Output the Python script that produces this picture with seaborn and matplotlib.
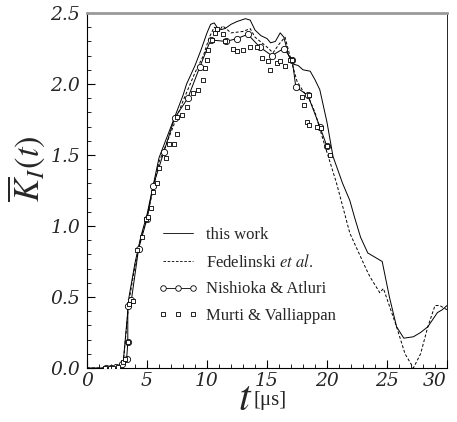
import numpy as np
import pandas as pd
import matplotlib
matplotlib.use("Agg")
import matplotlib.pyplot as plt
import seaborn as sns
from matplotlib.lines import Line2D
from matplotlib.ticker import MultipleLocator

# this work (solid line)
t_work = [0, 2.5, 3.0, 3.5, 4.0, 4.5, 5.0, 6.0, 7.0, 8.0, 8.3, 9.0, 9.5, 10.0, 10.3, 10.6,
          11.0, 11.5, 12.0, 12.5, 13.2, 13.6, 14.0, 14.5, 15.0, 15.3, 15.7, 16.1, 16.4,
          16.8, 17.2, 17.6, 18.0, 18.6, 19.0, 19.4, 20.0, 20.5, 21.3, 21.9, 22.3, 22.8,
          23.4, 24.0, 24.6, 25.2, 25.8, 26.4, 27.2, 27.8, 28.4, 29.2, 29.6, 30.0]
k_work = [0.0, 0.0, 0.02, 0.5, 0.74, 0.93, 1.08, 1.48, 1.7, 1.92, 2.0, 2.13, 2.24, 2.36, 2.42, 2.43,
          2.38, 2.39, 2.42, 2.44, 2.46, 2.45, 2.38, 2.34, 2.32, 2.29, 2.30, 2.36, 2.33,
          2.20, 2.14, 2.13, 2.10, 2.09, 2.03, 1.96, 1.73, 1.49, 1.30, 1.18, 1.06, 0.92,
          0.81, 0.78, 0.75, 0.50, 0.29, 0.21, 0.22, 0.25, 0.29, 0.39, 0.41, 0.44]

# Fedelinski et al. (dashed)
t_fed = [0, 2.5, 3.0, 3.5, 4.0, 4.5, 5.0, 6.0, 7.0, 8.0, 9.0, 9.7, 10.2, 10.6, 11.0, 11.3,
         12.0, 13.0, 13.6, 14.0, 15.0, 15.5, 16.0, 16.5, 17.0, 17.5, 18.0, 18.5, 19.0,
         19.7, 20.8, 21.9, 23.3, 23.6, 24.4, 24.7, 25.8, 26.5, 27.2, 27.8, 28.4, 29.0,
         29.4, 30.0]
k_fed = [0.0, 0.0, 0.02, 0.47, 0.72, 0.92, 1.06, 1.45, 1.66, 1.88, 2.08, 2.2, 2.33, 2.40, 2.37, 2.41,
         2.36, 2.37, 2.39, 2.33, 2.26, 2.22, 2.28, 2.33, 2.17, 2.02, 1.95, 1.9, 1.8,
         1.6, 1.30, 0.95, 0.69, 0.64, 0.53, 0.56, 0.29, 0.10, 0.0, 0.10, 0.29, 0.44,
         0.44, 0.41]

# Nishioka & Atluri (line with circles)
t_nis = [1.6, 2.0, 2.4, 2.9, 3.3, 3.4, 3.4, 3.7, 4.3, 5.0, 5.5, 6.4, 7.3, 8.4, 9.4, 10.3,
         11.6, 12.5, 13.4, 14.4, 15.4, 16.4, 17.1, 17.4, 18.4, 19.4, 20.0]
k_nis = [0.0, 0.0, 0.01, 0.03, 0.06, 0.18, 0.44, 0.48, 0.84, 1.05, 1.28, 1.52, 1.76, 1.9, 2.12, 2.31,
         2.30, 2.32, 2.35, 2.26, 2.20, 2.25, 2.17, 1.98, 1.92, 1.70, 1.56]

# Murti & Valliappan (squares)
t_mur = [1.5, 1.9, 2.2, 2.6, 3.0, 3.2, 3.4, 3.5, 3.8, 4.2, 4.6, 4.9, 5.1, 5.3, 5.5, 5.8,
         6.0, 6.6, 6.8, 7.25, 7.5, 7.5, 7.9, 8.3, 8.8, 9.25, 9.7, 9.8, 10.0, 10.1, 10.4,
         10.7, 10.8, 11.3, 11.5, 12.2, 12.5, 13.0, 13.6, 14.2, 14.6, 15.1, 15.25, 15.8,
         16.1, 16.5, 16.9, 17.1, 17.9, 18.1, 18.3, 18.5, 18.5, 19.2, 19.5, 20.0, 20.25]
k_mur = [0.0, 0.0, 0.0, 0.01, 0.04, 0.06, 0.18, 0.45, 0.47, 0.83, 0.92, 1.05, 1.06, 1.13, 1.24, 1.30,
         1.41, 1.48, 1.58, 1.58, 1.65, 1.77, 1.78, 1.84, 1.94, 1.96, 2.03, 2.11, 2.17, 2.24, 2.31,
         2.36, 2.39, 2.35, 2.30, 2.25, 2.23, 2.24, 2.26, 2.26, 2.18, 2.16, 2.10, 2.15,
         2.16, 2.13, 2.17, 2.17, 1.91, 1.85, 1.73, 1.92, 1.71, 1.70, 1.69, 1.56, 1.50]

x_ticks = [0, 5, 10, 15, 20, 25, 30]
y_ticks = [0.0, 0.5, 1.0, 1.5, 2.0, 2.5]

sns.set_theme(style="white")
plt.rcParams['font.family'] = ['Liberation Serif', 'DejaVu Serif']
plt.rcParams['mathtext.fontset'] = 'stix'

fig = plt.figure(figsize=(4.57, 4.22), dpi=100)
ax = fig.add_axes([87/457, 54/422, 360/457, 355/422])

sns.lineplot(x=t_work, y=k_work, ax=ax, color='black', lw=0.7, sort=False, estimator=None)
sns.lineplot(x=t_fed, y=k_fed, ax=ax, color='black', lw=0.7, sort=False, estimator=None,
             linestyle=(0, (3, 2)))
sns.lineplot(x=t_nis, y=k_nis, ax=ax, color='black', lw=0.7, sort=False, estimator=None,
             marker='o', markersize=4.5, markerfacecolor='white', markeredgecolor='black',
             markeredgewidth=0.6)
sns.scatterplot(x=t_mur, y=k_mur, ax=ax, marker='s', s=12, facecolor='white',
                edgecolor='black', linewidth=0.6, zorder=3)

ax.set_xlim(0, 30)
ax.set_ylim(0, 2.5)
ax.tick_params(which='both', direction='in', bottom=True, left=True, top=False, right=False,
               color='black')
ax.tick_params(which='major', length=6, width=0.8)
ax.tick_params(which='minor', length=3, width=0.6)
ax.tick_params(axis='x', pad=3)
ax.tick_params(axis='y', pad=5)
ax.set_xticks(x_ticks)
ax.set_yticks(y_ticks)
ax.xaxis.set_minor_locator(MultipleLocator(1))
ax.yaxis.set_minor_locator(MultipleLocator(0.1))
tick_font = dict(family='DejaVu Serif', style='italic', fontsize=13.5)
ax.set_xticklabels([f"{v:g}" for v in x_ticks], **tick_font)
ax.set_yticklabels([f"{v:.1f}" for v in y_ticks], **tick_font)
# keep the last x label inside the figure
for lab in ax.get_xticklabels():
    if lab.get_text() == '30':
        lab.set_horizontalalignment('right')

for s in ['left', 'bottom', 'right']:
    ax.spines[s].set_color('black')
    ax.spines[s].set_linewidth(0.8)
ax.spines['right'].set_linewidth(0.6)
ax.spines['top'].set_color('#9a9a9a')
ax.spines['top'].set_linewidth(2)

ax.set_xlabel('')
ax.set_ylabel(r'$\overline{K}_I(t)$', fontsize=25)
ax.yaxis.set_label_coords(-0.112, 0.56)
ax.text(0.44, -0.118, r'$t$', transform=ax.transAxes, fontsize=30, ha='center', va='baseline')
ax.text(0.462, -0.104, '[μs]', transform=ax.transAxes, fontsize=15, ha='left', va='baseline')

handles = [
    Line2D([], [], color='black', lw=0.6),
    Line2D([], [], color='black', lw=0.6, linestyle=(0, (3, 2))),
    Line2D([], [], color='black', lw=0.6, marker='o', markersize=4, markerfacecolor='white',
           markeredgewidth=0.6),
    Line2D([], [], color='none', marker='s', markersize=3.2, markerfacecolor='white',
           markeredgecolor='black', markeredgewidth=0.6),
]
labels = ['this work', r'Fedelinski $\it{et\ al.}$', 'Nishioka & Atluri', 'Murti & Valliappan']
ax.legend(handles, labels, loc='upper left', bbox_to_anchor=(0.155, 0.44), frameon=False,
          fontsize=12, handlelength=2.4, numpoints=3, labelspacing=0.65, handletextpad=0.5)

fig.savefig('out.png', dpi=100)
